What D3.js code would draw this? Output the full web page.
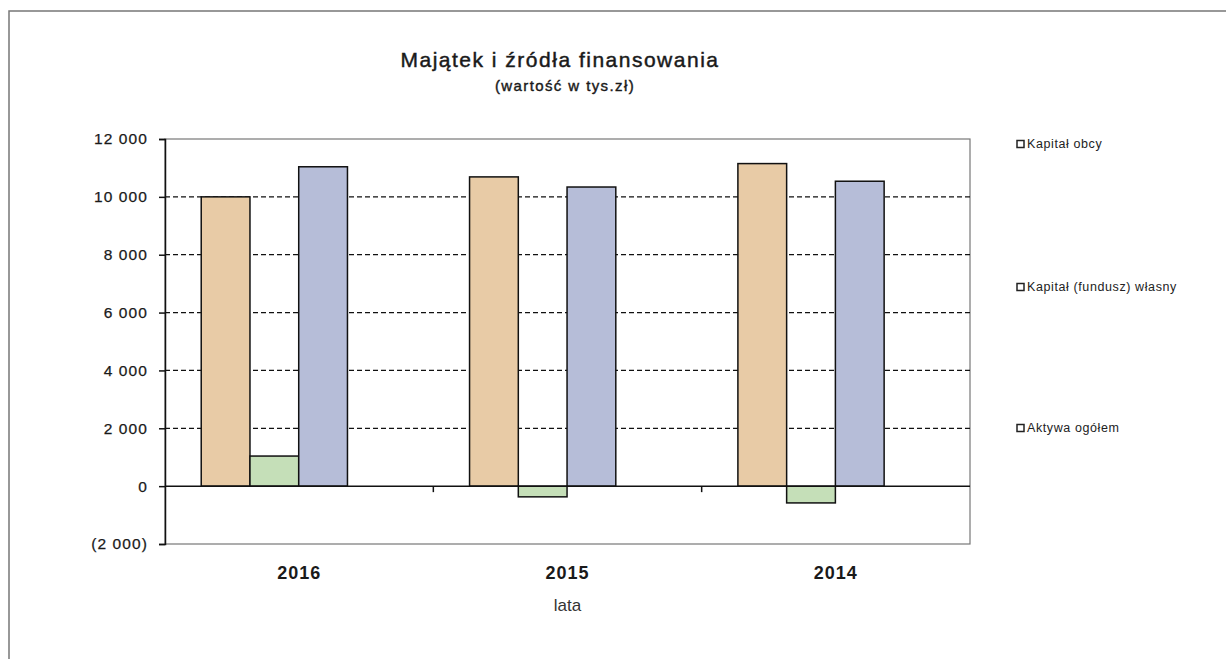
<!DOCTYPE html>
<html>
<head>
<meta charset="utf-8">
<script src="https://cdn.jsdelivr.net/npm/d3@7"></script>
<style>
	body { margin: 0; background: #fff; }
	svg { font-family: "Liberation Sans", Arial, sans-serif; }
</style>
</head>
<body>
<script>
const lata = ["2016", "2015", "2014"];
const kapitalObcy = [10000, 10690, 11150];
const kapitalWlasny = [1040, -370, -580];
const aktywaOgolem = [11040, 10340, 10540];
const seriesNames = ["Kapitał obcy", "Kapitał (fundusz) własny", "Aktywa ogółem"];
const seriesColors = ["#e8cba6", "#c5dfb8", "#b6bdd8"];
const yTicks = [-2000, 0, 2000, 4000, 6000, 8000, 10000, 12000];

const width = 1226,
	height = 659;

const plot = {left: 165, right: 970, top: 139, bottom: 544};

const svg = d3.select("body")
	.append("svg")
	.attr("width", width)
	.attr("height", height);

// outer frame of the scanned chart
svg.append("path")
	.attr("d", "M9,659 V11 H1226")
	.attr("fill", "none")
	.attr("stroke", "#777")
	.attr("stroke-width", 1.5);

const y = d3.scaleLinear().domain([-2000, 12000]).range([plot.bottom, plot.top]);
const x = d3.scaleBand().domain(lata).range([plot.left, plot.right]);
// bars sit left of the band centre, like in the Excel original
const xs = d3.scaleBand().domain(seriesNames)
	.range([x.bandwidth() * 0.135, x.bandwidth() * 0.68]);

const numFmt = d3.formatLocale({decimal: ",", thousands: " ", grouping: [3], currency: ["", " zł"]}).format(",d");
const fmt = d => d < 0 ? "(" + numFmt(-d) + ")" : numFmt(d);

// plot area border
svg.append("rect")
	.attr("x", plot.left)
	.attr("y", plot.top)
	.attr("width", plot.right - plot.left)
	.attr("height", plot.bottom - plot.top)
	.attr("fill", "none")
	.attr("stroke", "#777")
	.attr("stroke-width", 1.2);

// dashed grid
svg.append("g")
	.selectAll("line")
	.data(yTicks.filter(t => t > 0 && t < 12000))
	.join("line")
	.attr("x1", plot.left)
	.attr("x2", plot.right)
	.attr("y1", d => y(d))
	.attr("y2", d => y(d))
	.attr("stroke", "#111")
	.attr("stroke-width", 1.3)
	.attr("stroke-dasharray", "5,3");

const table = lata.map((l, i) => ({
	rok: l,
	values: [kapitalObcy[i], kapitalWlasny[i], aktywaOgolem[i]]
}));

const groups = svg.append("g")
	.selectAll("g")
	.data(table)
	.join("g")
	.attr("transform", d => "translate(" + x(d.rok) + ",0)");

groups.selectAll("rect")
	.data(d => d.values.map((v, j) => ({name: seriesNames[j], v: v, c: seriesColors[j]})))
	.join("rect")
	.attr("x", d => xs(d.name))
	.attr("width", xs.bandwidth())
	.attr("y", d => y(Math.max(0, d.v)))
	.attr("height", d => Math.abs(y(d.v) - y(0)))
	.attr("fill", d => d.c)
	.attr("stroke", "#111")
	.attr("stroke-width", 1.5);

// zero line with category ticks
svg.append("line")
	.attr("x1", plot.left)
	.attr("x2", plot.right)
	.attr("y1", y(0))
	.attr("y2", y(0))
	.attr("stroke", "#111")
	.attr("stroke-width", 1.5);

svg.append("g")
	.selectAll("line")
	.data(lata.slice(1))
	.join("line")
	.attr("x1", d => x(d))
	.attr("x2", d => x(d))
	.attr("y1", y(0))
	.attr("y2", y(0) + 6)
	.attr("stroke", "#111")
	.attr("stroke-width", 1.5);

// y axis
const yAxis = d3.axisLeft(y).tickValues(yTicks).tickFormat(fmt).tickSize(6).tickPadding(11);
const gy = svg.append("g")
	.attr("transform", "translate(" + plot.left + ",0)")
	.call(yAxis);
gy.select(".domain").attr("stroke", "#111").attr("stroke-width", 1.5);
gy.selectAll(".tick line").attr("stroke", "#111").attr("stroke-width", 1.5);
gy.selectAll("text")
	.attr("font-size", 15.5)
	.attr("fill", "#1a1a1a")
	.attr("font-family", "Liberation Sans, Arial, sans-serif")
	.attr("stroke", "#1a1a1a")
	.attr("stroke-width", 0.25)
	.style("letter-spacing", "1.1px");

// category labels
svg.append("g")
	.selectAll("text")
	.data(lata)
	.join("text")
	.attr("x", d => x(d) + x.bandwidth() / 2)
	.attr("y", 579)
	.attr("text-anchor", "middle")
	.attr("font-size", 18)
	.attr("font-weight", "bold")
	.attr("fill", "#1a1a1a")
	.style("letter-spacing", "1px")
	.text(d => d);

svg.append("text")
	.attr("x", (plot.left + plot.right) / 2)
	.attr("y", 611)
	.attr("text-anchor", "middle")
	.attr("font-size", 17)
	.attr("fill", "#333")
	.text("lata");

// titles
svg.append("text")
	.attr("x", 560)
	.attr("y", 67)
	.attr("text-anchor", "middle")
	.attr("font-size", 21)
	.attr("fill", "#1a1a1a")
	.attr("stroke", "#1a1a1a")
	.attr("stroke-width", 0.45)
	.style("letter-spacing", "1.5px")
	.text("Majątek i źródła finansowania");

svg.append("text")
	.attr("x", 565)
	.attr("y", 91)
	.attr("text-anchor", "middle")
	.attr("font-size", 15)
	.attr("fill", "#1a1a1a")
	.attr("stroke", "#1a1a1a")
	.attr("stroke-width", 0.4)
	.style("letter-spacing", "1.4px")
	.text("(wartość w tys.zł)");

// legend
const legendY = [144, 287, 428];
const legend = svg.append("g")
	.selectAll("g")
	.data(seriesNames)
	.join("g")
	.attr("transform", (d, i) => "translate(1017," + legendY[i] + ")");

legend.append("rect")
	.attr("x", 0)
	.attr("y", -3.5)
	.attr("width", 7)
	.attr("height", 7)
	.attr("fill", "#fff")
	.attr("stroke", "#222")
	.attr("stroke-width", 1.5);

legend.append("text")
	.attr("x", 10)
	.attr("y", 4)
	.attr("font-size", 12.5)
	.attr("fill", "#222")
	.style("letter-spacing", "0.6px")
	.text(d => d);
</script>
</body>
</html>
